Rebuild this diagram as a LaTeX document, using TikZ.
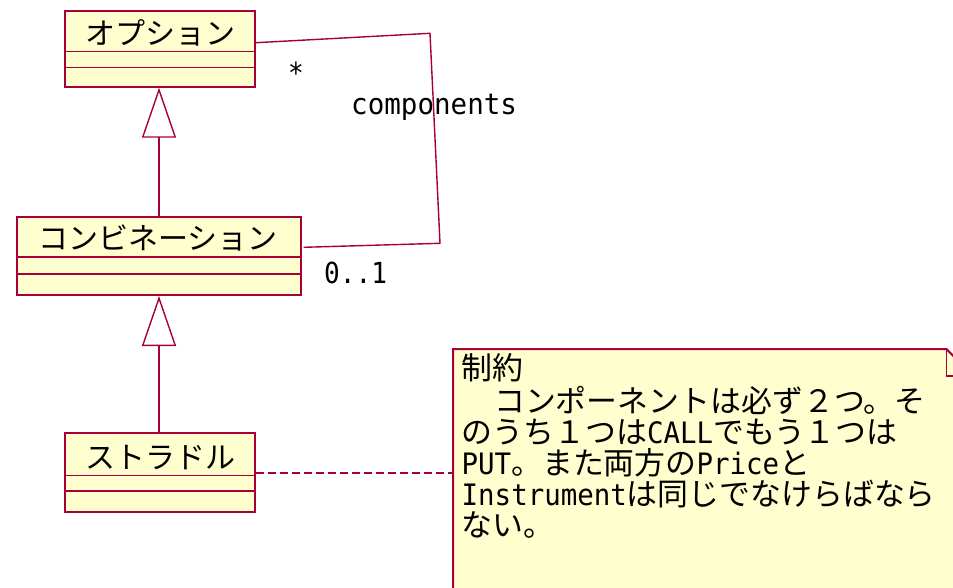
\documentclass[tikz,border=0pt]{standalone}
\usepackage{fontspec}
\setmainfont{Noto Sans CJK JP}
\newfontfamily\jpfont{Noto Sans CJK JP}
\newfontfamily\monofont[FakeStretch=0.9]{DejaVu Sans Mono}
\newfontfamily\monowide[FakeStretch=0.95]{DejaVu Sans Mono}
\newfontfamily\mononote[FakeStretch=0.93]{DejaVu Sans Mono}
\usetikzlibrary{arrows.meta,calc}
\definecolor{umlred}{HTML}{A80036}
\definecolor{umlfill}{HTML}{FEFECE}
\newcommand{\latn}[1]{{\mononote\fontsize{29.5}{31}\selectfont #1}}
\begin{document}
\begin{tikzpicture}[x=1pt,y=-1pt,
  classbox/.style={draw=umlred, fill=umlfill, line width=2pt, inner sep=0pt, anchor=north west},
  sepline/.style={draw=umlred, line width=1.3pt},
  classname/.style={font=\jpfont\fontsize{30}{30}\selectfont, inner sep=0pt},
  conn/.style={draw=umlred, line width=1.4pt},
  gen/.style={conn, -{Triangle[open, fill=white, length=50pt, width=34pt]}},
  lbl/.style={font=\monofont\fontsize{29}{29}\selectfont, inner sep=0pt, anchor=base west},
  notetext/.style={font=\jpfont\fontsize{30.9}{31}\selectfont, inner sep=0pt, align=left, anchor=north west},
]
\fill[white] (0,0) rectangle (953,588);
\useasboundingbox (0,0) rectangle (953,588);

% classes
\node[classbox, minimum width=190pt, minimum height=75.7pt] (opt) at (64,10) {};
\draw[sepline] ($(opt.north west)+(0,41.7)$) -- ($(opt.north east)+(0,41.7)$);
\draw[sepline] ($(opt.north west)+(0,57.7)$) -- ($(opt.north east)+(0,57.7)$);
\node[classname] (optname) at (160,32.5) {オプション};

\node[classbox, minimum width=284pt, minimum height=78.3pt] (cmb) at (16,215.7) {};
\draw[sepline] ($(cmb.north west)+(0,41.3)$) -- ($(cmb.north east)+(0,41.3)$);
\draw[sepline] ($(cmb.north west)+(0,58.3)$) -- ($(cmb.north east)+(0,58.3)$);
\node[classname] (cmbname) at (158,237.5) {コンビネーション};

\node[classbox, minimum width=190pt, minimum height=79.3pt] (str) at (64,431.7) {};
\draw[sepline] ($(str.north west)+(0,44)$) -- ($(str.north east)+(0,44)$);
\draw[sepline] ($(str.north west)+(0,59.3)$) -- ($(str.north east)+(0,59.3)$);
\node[classname] (strname) at (160,457.5) {ストラドル};

% generalizations
\draw[gen] (cmb.north) -- (cmb.north |- opt.south);
\draw[gen] (str.north -| cmb.north) -- (cmb.south);

% association
\coordinate (c1) at (430,33.3);
\coordinate (c2) at (440,243.3);
\draw[conn] ($(opt.north east)+(0,32.7)$) -- (c1) -- (c2) -- ($(cmb.north east)+(1.7,31.6)$);
\node[lbl, anchor=base] (mstar) at (296,84) {*};
\node[lbl, font=\monowide\fontsize{29}{29}\selectfont] (lcomp) at (351,115) {components};
\node[lbl] (lmult) at (324,283.3) {0..1};

% note
\node[inner sep=0pt, minimum width=520pt, minimum height=260pt, anchor=north west] (note) at (453,349) {};
\draw[draw=umlred, line width=2pt, fill=umlfill] (note.north west) -- ($(note.north east)+(-27,0)$) -- ($(note.north east)+(0,27)$) -- (note.south east) -- (note.south west) -- cycle;
\draw[sepline] ($(note.north east)+(-27,0)$) -- ($(note.north east)+(-27,27)$) -- ($(note.north east)+(0,27)$);
\draw[conn, line width=1.7pt, dash pattern=on 8pt off 4pt] ($(str.north east)+(0,41.6)$) -- ($(note.north west)+(0,124.3)$);

\node[notetext] (ntext) at (461.5,353) {制約\\[2pt]
\hspace*{1.5pt}　コンポーネントは必ず２つ。そ\\
のうち１つは\latn{CALL}でもう１つは\\
\latn{PUT}。また両方の\latn{Price}と\\
\latn{Instrument}は同じでなけらばなら\\
ない。};
\end{tikzpicture}
\end{document}
